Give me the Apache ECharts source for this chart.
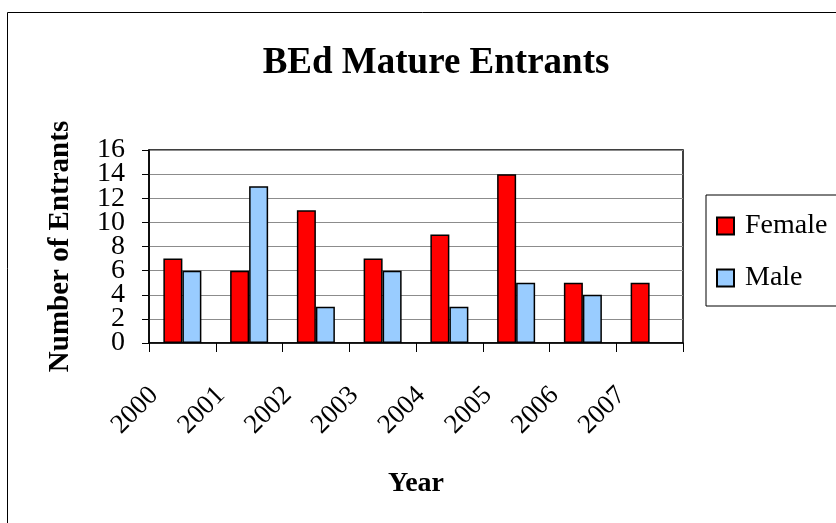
<!DOCTYPE html>
<html><head><meta charset="utf-8">
<script src="https://cdn.jsdelivr.net/npm/echarts@6/dist/echarts.min.js"></script>
<style>html,body{margin:0;padding:0;background:#fff}#c{width:836px;height:523px}</style>
</head><body><div id="c"></div>
<script>
const years = ['2000','2001','2002','2003','2004','2005','2006','2007'];
const female = [7, 6, 11, 7, 9, 14, 5, 5];
const male = [6, 13, 3, 6, 3, 5, 4, null];
const font = 'Liberation Serif';
const chart = echarts.init(document.getElementById('c'));
const yLabelStyle = { margin: 24, fontFamily: font, fontSize: 28, color: '#000', showMinLabel: true, showMaxLabel: true, hideOverlap: false };
chart.setOption({
  animation: false,
  backgroundColor: '#fff',
  textStyle: { fontFamily: font, color: '#000' },
  graphic: [{ type: 'rect', shape: { x: 7.5, y: 12.5, width: 840, height: 520 }, style: { fill: null, stroke: '#000', lineWidth: 1 }, silent: true, z: -1 }],
  title: { text: 'BEd Mature Entrants', left: 431, textAlign: 'center', top: 40, textStyle: { fontFamily: font, fontSize: 37, fontWeight: 'bold', color: '#000' } },
  legend: {
    left: 706, top: 195, orient: 'vertical', padding: [17, 12, 14, 10], itemGap: 24,
    itemWidth: 17, itemHeight: 17, borderColor: '#000', borderWidth: 1,
    textStyle: { fontFamily: font, fontSize: 28, color: '#000', padding: [0, 0, 0, 6] },
    data: [{ name: 'Female', icon: 'rect' }, { name: 'Male', icon: 'rect' }]
  },
  grid: { left: 149, right: 153, top: 150, bottom: 180, show: true, borderColor: '#000', borderWidth: 1.5, backgroundColor: 'transparent' },
  xAxis: {
    type: 'category', data: years, name: 'Year', nameLocation: 'middle', nameGap: 127,
    nameTextStyle: { fontFamily: font, fontSize: 28, fontWeight: 'bold', color: '#000' },
    axisLine: { lineStyle: { color: '#000', width: 1.5 } },
    axisTick: { show: true, length: 9, lineStyle: { color: '#000' } },
    axisLabel: { rotate: 45, margin: 20, fontFamily: font, fontSize: 27, color: '#000', padding: [0, 40, 0, 0] }
  },
  yAxis: [{
    type: 'value', min: 0, max: 16, interval: 2, position: 'left', name: 'Number of Entrants', nameLocation: 'middle', nameGap: 74,
    nameTextStyle: { fontFamily: font, fontSize: 29, fontWeight: 'bold', color: '#000' },
    axisLine: { show: true, lineStyle: { color: '#000', width: 1.5 } },
    axisTick: { show: true, length: 7, lineStyle: { color: '#000' } },
    axisLabel: Object.assign({}, yLabelStyle, { formatter: v => (v % 4 === 0 ? String(v) : '') }),
    splitLine: { lineStyle: { color: '#8c8c8c', width: 1 } }
  }, {
    type: 'value', min: 0, max: 16, interval: 2, position: 'left', offset: 0,
    axisLine: { show: false }, axisTick: { show: false }, splitLine: { show: false },
    axisLabel: Object.assign({}, yLabelStyle, { formatter: v => (v % 4 === 2 ? String(v) : '') })
  }],
  series: [
    { name: 'Female', type: 'bar', yAxisIndex: 0, data: female, barWidth: 19, barGap: '0%', itemStyle: { color: '#FF0000', borderColor: '#000', borderWidth: 1.5 } },
    { name: 'Male', type: 'bar', yAxisIndex: 0, data: male, barWidth: 19, itemStyle: { color: '#99CCFF', borderColor: '#000', borderWidth: 1.5 } }
  ]
});
</script></body></html>
